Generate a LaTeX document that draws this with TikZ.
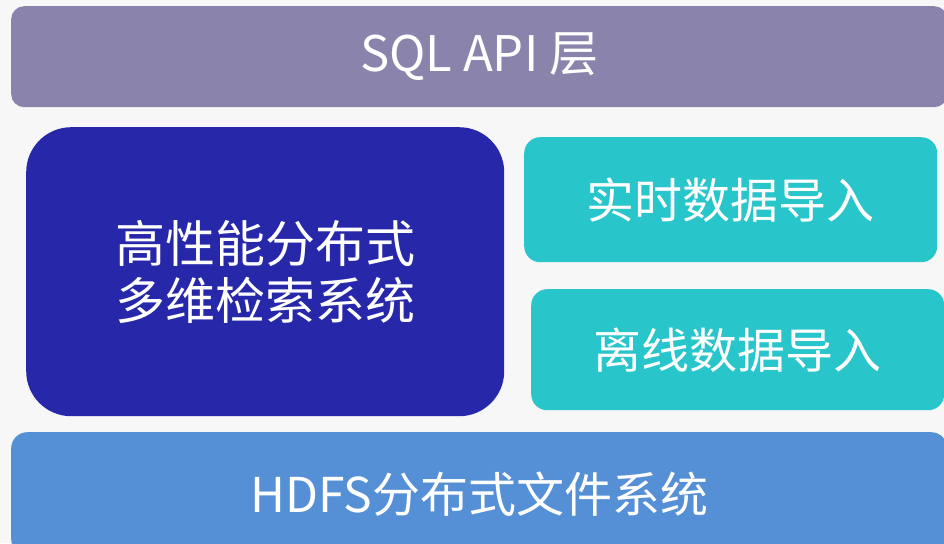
\documentclass[tikz,border=0pt]{standalone}
\usepackage{fontspec}
\setmainfont{Noto Sans CJK SC}
\definecolor{bgc}{HTML}{F7F7F7}
\definecolor{apic}{HTML}{8A83AC}
\definecolor{dimc}{HTML}{2727AA}
\definecolor{tealc}{HTML}{28C5CB}
\definecolor{hdfsc}{HTML}{558FD5}
\tikzset{
  layer/.style={draw=none, inner sep=0pt, anchor=north west, text=white, align=center},
}
\begin{document}
\begin{tikzpicture}[x=1pt,y=-1pt]
\useasboundingbox (0,0) rectangle (944,543);
\clip (0,0) rectangle (944,543);
\fill[bgc] (0,0) rectangle (944,543);
\node[layer, fill=apic, rounded corners=13pt, minimum width=936pt, minimum height=101pt,
  font=\fontsize{49}{54}\selectfont] (api) at (11,6) {\raisebox{-3pt}{SQL API 层}};
\node[layer, fill=dimc, rounded corners=45pt, minimum width=478pt, minimum height=289pt,
  font=\fontsize{50}{57}\selectfont] (dim) at (26,127) {高性能分布式\\多维检索系统};
\node[layer, fill=tealc, rounded corners=16pt, minimum width=413pt, minimum height=125pt,
  font=\fontsize{48}{52}\selectfont] (rt) at (524,137) {实时数据导入};
\node[layer, fill=tealc, rounded corners=16pt, minimum width=413pt, minimum height=121pt,
  font=\fontsize{48}{52}\selectfont] (off) at (531,289) {离线数据导入};
\node[layer, fill=hdfsc, rounded corners=16pt, minimum width=936pt, minimum height=123pt,
  font=\fontsize{48}{52}\selectfont] (hdfs) at (11,432) {HDFS分布式文件系统};
\end{tikzpicture}
\end{document}
